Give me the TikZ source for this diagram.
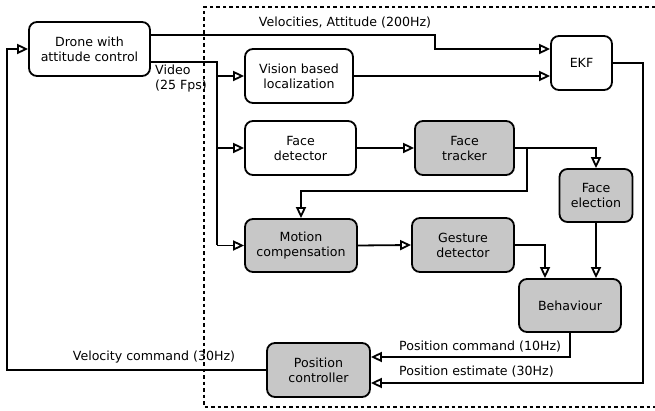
\documentclass[tikz,border=0pt]{standalone}
\usepackage{fontspec}
\setmainfont{DejaVu Sans}
\usetikzlibrary{arrows.meta}
\begin{document}
\begin{tikzpicture}[x=1pt,y=-1pt,
  every node/.style={font=\fontsize{12.6}{15}\selectfont},
  block/.style={draw, line width=1.8pt, rounded corners=8pt, align=center, inner sep=2pt},
  shaded/.style={block, fill=black!22},
  wire/.style={line width=1.8pt},
  arr/.style={wire, -{Triangle[open, length=11pt, width=10pt]}},
  lbl/.style={inner sep=0pt}]
\useasboundingbox (0,0) rectangle (655,411);

% onboard processing frame (open towards the right)
\draw[line width=1.5pt, dash pattern=on 3.5pt off 3pt] (655,7) -- (204,7) -- (204,407) -- (655,407);

% blocks
\node[block, minimum width=121pt, minimum height=54pt] (drone) at (89.5,49) {Drone with\\attitude control};
\node[block, minimum width=108pt, minimum height=54pt] (vision) at (299,76) {Vision based\\localization};
\node[block, minimum width=111pt, minimum height=54pt] (facedet) at (300.5,148) {Face\\detector};
\node[shaded, minimum width=99pt, minimum height=54pt] (tracker) at (464.5,148) {Face\\tracker};
\node[block, minimum width=61pt, minimum height=54pt] (ekf) at (581.5,63) {EKF};
\node[shaded, minimum width=73pt, minimum height=53pt] (election) at (596,195.5) {Face\\election};
\node[shaded, minimum width=112pt, minimum height=53pt] (motion) at (301,245.5) {Motion\\compensation};
\node[shaded, minimum width=102pt, minimum height=54pt] (gesture) at (463,245) {Gesture\\detector};
\node[shaded, minimum width=102pt, minimum height=53pt] (behaviour) at (570,305.5) {Behaviour};
\node[shaded, minimum width=103pt, minimum height=54pt] (posctrl) at (318.5,370) {Position\\controller};

% connection points
\coordinate (velbend) at (435,35);
\coordinate (vidbus) at (217,62);
\coordinate (trkdown) at (527,148);
\coordinate (trkleft) at (527,191);
\coordinate (ekfright) at (643,63);
\coordinate (leftrail) at (7,370);

% drone telemetry to the filter
\draw[arr] (drone.east |- velbend) -- (velbend) -- (velbend |- 0,49) -- (ekf.west |- 0,49);
\node[lbl] (vellbl) at (345,23) {Velocities, Attitude (200Hz)};

% video stream
\draw[wire] (drone.east |- vidbus) -- (vidbus) -- (vidbus |- motion.west);
\draw[arr] (vidbus |- motion.west) -- (motion.west);
\draw[arr] (vidbus |- vision.west) -- (vision.west);
\draw[arr] (vidbus |- facedet.west) -- (facedet.west);
\node[lbl, anchor=north west, align=left] (vidlbl) at (155,65) {Video\\(25 Fps)};

% vision pipeline
\draw[arr] (vision.east) -- (ekf.west |- vision.east);
\draw[arr] (facedet.east) -- (tracker.west);
\draw[arr] (tracker.east) -| (election.north);
\draw[arr] (trkdown) -- (trkleft) -| (motion.north);
\draw[arr] (motion.east) -- (gesture.west);
\draw[arr] (gesture.east) -| ([xshift=-25pt]behaviour.north);
\draw[arr] (election.south) -- (election.south |- behaviour.north);

% control loop
\draw[arr] (behaviour.south) |- ([yshift=13pt]posctrl.east);
\node[lbl, anchor=west] (cmdlbl) at (399,347) {Position command (10Hz)};
\draw[arr] (ekf.east) -- (ekfright) -- (ekfright |- 0,383) -- ([yshift=-13pt]posctrl.east);
\node[lbl, anchor=west] (estlbl) at (399,372) {Position estimate (30Hz)};
\draw[arr] (posctrl.west) -- (leftrail) -- (leftrail |- drone.west) -- (drone.west);
\node[lbl] (vcmdlbl) at (154,357) {Velocity command (30Hz)};
\end{tikzpicture}
\end{document}
